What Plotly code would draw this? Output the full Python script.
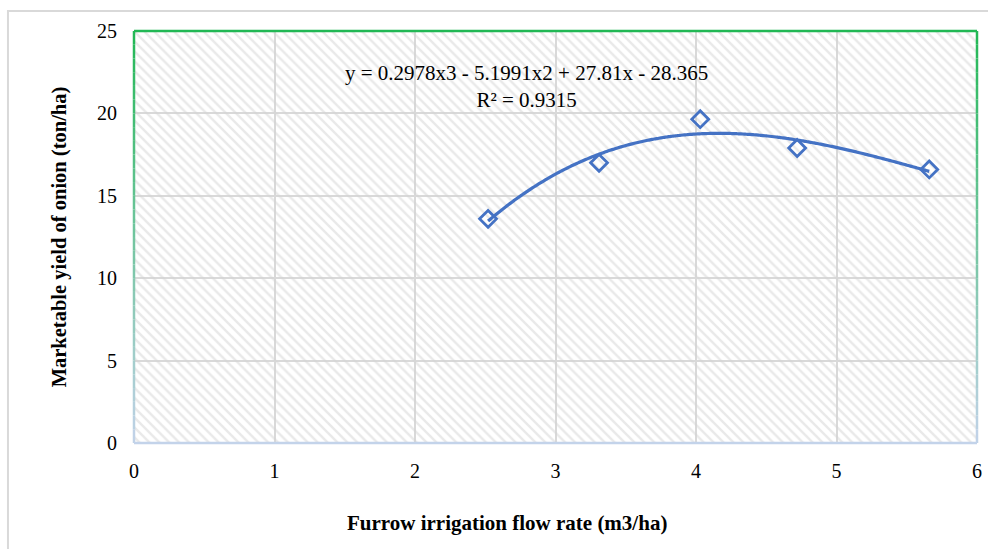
import numpy as np
import plotly.graph_objects as go

# Data
flow_rate = [2.52, 3.31, 4.03, 4.72, 5.66]
yield_onion = [13.6, 17.0, 19.65, 17.9, 16.6]
# Trendline coefficients as printed on the chart (cubic polynomial)
trend_coeffs = [0.2978, -5.1991, 27.81, -28.365]
equation_text = "y = 0.2978x3 - 5.1991x2 + 27.81x - 28.365<br>R² = 0.9315"
x_title = "<b>Furrow irrigation flow rate (m3/ha)</b>"
y_title = "<b>Marketable yield of onion (ton/ha)</b>"
x_ticks = [0, 1, 2, 3, 4, 5, 6]
y_ticks = [0, 5, 10, 15, 20, 25]

x_range = [0, 6]
y_range = [0, 25]

blue = "#4472C4"
font_family = "Liberation Serif, Times New Roman, serif"

fig = go.Figure()

# patterned background of the plot area (transparent so gridlines show through)
fig.add_trace(go.Scatter(
    x=[x_range[0], x_range[1], x_range[1], x_range[0], x_range[0]],
    y=[y_range[0], y_range[0], y_range[1], y_range[1], y_range[0]],
    mode="lines", line=dict(width=0), fill="toself",
    fillcolor="rgba(0,0,0,0)",
    fillpattern=dict(shape="\\", fgcolor="#D3D3D3", bgcolor="rgba(0,0,0,0)", size=7, solidity=0.35),
    hoverinfo="skip", showlegend=False,
))

# trendline
xt = np.linspace(min(flow_rate), max(flow_rate), 200)
yt = np.polyval(trend_coeffs, xt)
fig.add_trace(go.Scatter(x=xt, y=yt, mode="lines",
                         line=dict(color=blue, width=3.2, shape="spline"),
                         showlegend=False, hoverinfo="skip"))

# data points
fig.add_trace(go.Scatter(x=flow_rate, y=yield_onion, mode="markers",
                         marker=dict(symbol="diamond-open", size=13, color=blue,
                                     line=dict(color=blue, width=2.8)),
                         showlegend=False))

fig.add_annotation(x=2.79, y=21.65, xref="x", yref="y", text=equation_text,
                   showarrow=False, align="center",
                   font=dict(family=font_family, size=21, color="black"))

# x-axis title (centred slightly left of the plot centre, as in the original)
fig.add_annotation(x=0.443, y=-0.194, xref="paper", yref="paper", text=x_title,
                   showarrow=False, xanchor="center", yanchor="middle",
                   font=dict(family=font_family, size=21, color="black"))

shapes = []
# outer light gray border of the chart
shapes.append(dict(type="rect", xref="paper", yref="paper",
                   x0=-0.1495, x1=1.2, y0=-0.5, y1=1.0485,
                   line=dict(color="#D9D9D9", width=2), fillcolor="rgba(0,0,0,0)", layer="below"))

# plot-area border with green -> light blue gradient
top_col = np.array([0x22, 0xB8, 0x55])
bot_col = np.array([0xC3, 0xD3, 0xEA])
n = 30
for i in range(n):
    f0 = i / n
    f1 = (i + 1) / n
    c = (bot_col + (top_col - bot_col) * ((f0 + f1) / 2)).astype(int)
    col = "rgb(%d,%d,%d)" % tuple(c)
    for xx in (0, 1):
        shapes.append(dict(type="line", xref="paper", yref="paper",
                           x0=xx, x1=xx, y0=f0, y1=f1, line=dict(color=col, width=2.5)))
shapes.append(dict(type="line", xref="paper", yref="paper", x0=0, x1=1, y0=1, y1=1,
                   line=dict(color="rgb(34,184,85)", width=2.5)))
shapes.append(dict(type="line", xref="paper", yref="paper", x0=0, x1=1, y0=0, y1=0,
                   line=dict(color="rgb(195,211,234)", width=2.5)))

fig.update_layout(
    width=988, height=549,
    margin=dict(l=134, r=6, t=31, b=106),
    paper_bgcolor="white", plot_bgcolor="white",
    font=dict(family=font_family, size=20, color="black"),
    shapes=shapes,
    xaxis=dict(range=x_range, tickvals=x_ticks, showgrid=True, gridcolor="#D9D9D9", gridwidth=1.5,
               zeroline=False, showline=False, ticks="", ticklen=0, ticklabelstandoff=14,
               tickfont=dict(family=font_family, size=20)),
    yaxis=dict(range=y_range, tickvals=y_ticks, showgrid=True, gridcolor="#D9D9D9", gridwidth=1.5,
               zeroline=False, showline=False, ticks="", ticklen=0, ticklabelstandoff=16,
               tickfont=dict(family=font_family, size=20),
               title=dict(text=y_title, standoff=24,
                          font=dict(family=font_family, size=20.5))),
)

fig.write_html("out.html", config={"displayModeBar": False},
               post_script="document.body.style.margin='0';document.body.style.overflow='hidden';")
